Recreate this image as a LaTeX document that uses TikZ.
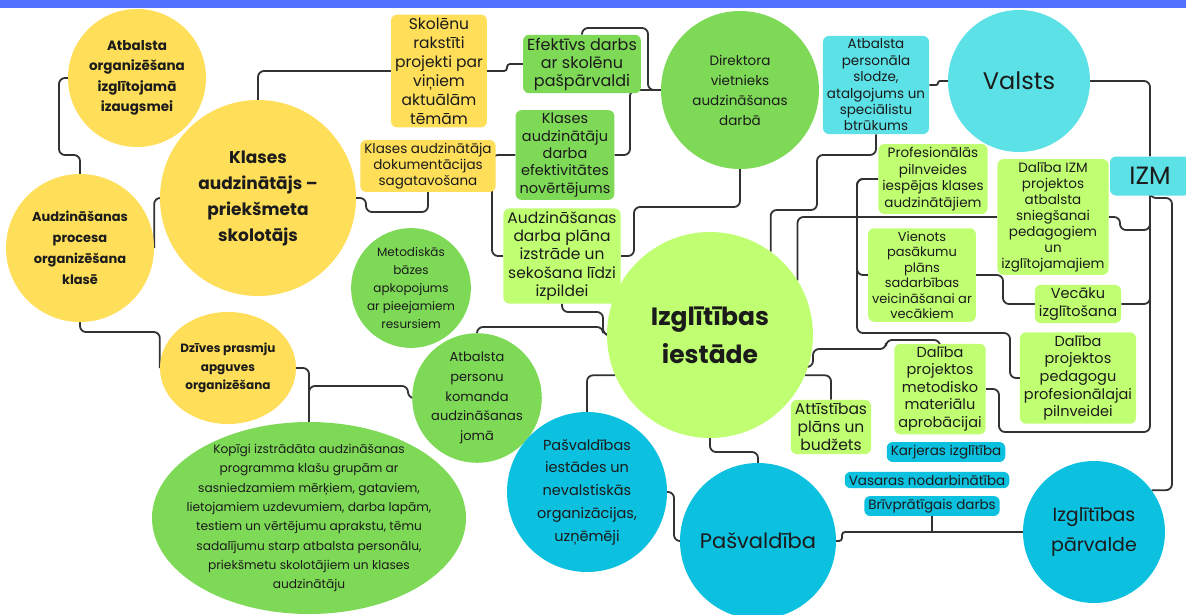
\documentclass[tikz,border=0pt]{standalone}
\usepackage{fontspec}
\setmainfont{Poppins}
\usetikzlibrary{shapes.geometric}
\definecolor{ink}{HTML}{1B1B1B}
\definecolor{cBar}{HTML}{5271FF}
\definecolor{cYellow}{HTML}{FFDE59}
\definecolor{cGreen}{HTML}{7ED957}
\definecolor{cLime}{HTML}{C1FF72}
\definecolor{cAqua}{HTML}{5CE1E6}
\definecolor{cBlue}{HTML}{0CC0DF}
\newcommand\fsz[2]{\fontsize{#1}{#2}\selectfont}
\pgfdeclarelayer{bg}
\pgfdeclarelayer{links}
\pgfsetlayers{bg,links,main}
\tikzset{
  bubble/.style={circle, inner sep=0pt, align=center, text=ink}, % round topic
  oval/.style={ellipse, inner sep=0pt}, % elliptic topic, text set as label
  tag/.style={rounded corners=6pt, inner xsep=4pt, inner ysep=3pt, align=center, text=ink}, % text box
  link/.style={draw=ink!90, line width=1.8pt, rounded corners=6pt}, % connector between topics
}

\begin{document}
\begin{tikzpicture}[x=1pt, y=-1pt]
	\begin{pgfonlayer}{bg}
	\fill[white] (0,0) rectangle (1186,614);
	\fill[cBar] (0,0) rectangle (1186,8);
	\end{pgfonlayer}
	\useasboundingbox (0,0) rectangle (1186,614);

	% yellow: class teacher side
	\node[bubble, fill=cYellow, minimum size=138, font=\bfseries\fsz{13.5}{20.5}] (aoi) at (137,78) {Atbalsta\\organizēšana\\izglītojamā\\izaugsmei};
	\node[bubble, fill=cYellow, minimum size=196, font=\bfseries\fsz{17}{26}] (kas) at (258,198) {Klases\\audzinātājs –\\priekšmeta\\skolotājs};
	\node[bubble, fill=cYellow, minimum size=148, font=\bfseries\fsz{13}{21}] (apo) at (80,248) {Audzināšanas\\procesa\\organizēšana\\klasē};
	\node[oval, fill=cYellow, minimum width=136, minimum height=112, label={[align=center, text=ink, font=\bfseries\fsz{12}{18.5}]center:Dzīves prasmju\\apguves\\organizēšana}] (dpa) at (228,368) {};
	\node[tag, fill=cYellow, font=\fsz{15.5}{19}] (srp) at (439,71) {Skolēnu\\rakstīti\\projekti par\\viņiem\\aktuālām\\tēmām};
	\node[tag, fill=cYellow, font=\fsz{13.5}{16}] (kad) at (428,166) {Klases audzinātāja\\dokumentācijas\\sagatavošana};

	% green: deputy director side
	\node[tag, fill=cGreen, font=\fsz{16}{18}] (eds) at (582,64) {Efektīvs darbs\\ar skolēnu\\pašpārvaldi};
	\node[tag, fill=cGreen, font=\fsz{14.5}{17.3}] (kae) at (565,155) {Klases\\audzinātāju\\darba\\efektivitātes\\novērtējums};
	\node[bubble, fill=cGreen, minimum size=158, font=\fsz{13.5}{20}] (dva) at (740,90) {Direktora\\vietnieks\\audzināšanas\\darbā};
	\node[bubble, fill=cGreen, minimum size=114, font=\fsz{12}{18}] (mba) at (411,288) {Metodiskās\\bāzes\\apkopojums\\ar pieejamiem\\resursiem};
	\node[bubble, fill=cGreen, minimum size=124, font=\fsz{13}{19.6}] (atp) at (477,398) {Atbalsta\\personu\\komanda\\audzināšanas\\jomā};
	\node[oval, fill=cGreen, minimum width=314, minimum height=192, label={[align=center, text=ink, font=\fsz{12.2}{19.3}]center:{Kopīgi izstrādāta audzināšanas\\programma klašu grupām ar\\sasniedzamiem mērķiem, gataviem,\\lietojamiem uzdevumiem, darba lapām,\\testiem un vērtējumu aprakstu, tēmu\\sadalījumu starp atbalsta personālu,\\priekšmetu skolotājiem un klases\\audzinātāju}}] (kop) at (309,518) {};

	% lime: the school
	\node[tag, fill=cLime, font=\fsz{15.5}{18.3}] (adp) at (562,256) {Audzināšanas\\darba plāna\\izstrāde un\\sekošana līdzi\\izpildei};
	\node[bubble, fill=cLime, minimum size=206, font=\bfseries\fsz{25}{38}] (iz) at (710,335) {Izglītības\\iestāde};
	\node[tag, fill=cLime, font=\fsz{13.5}{16.7}] (pps) at (933,179) {Profesionālās\\pilnveides\\iespējas klases\\audzinātājiem};
	\node[tag, fill=cLime, font=\fsz{13.5}{16}] (diz) at (1053,217) {Dalība IZM\\projektos\\atbalsta\\sniegšanai\\pedagogiem\\un\\izglītojamajiem};
	\node[tag, fill=cLime, font=\fsz{13}{15.5}] (vpp) at (922,275) {Vienots\\pasākumu\\plāns\\sadarbības\\veicināšanai ar\\vecākiem};
	\node[tag, fill=cLime, font=\fsz{14.5}{17.7}] (vec) at (1078,304) {Vecāku\\izglītošana};
	\node[tag, fill=cLime, font=\fsz{14.5}{17.7}] (dpp) at (1078,378) {Dalība\\projektos\\pedagogu\\profesionālajai\\pilnveidei};
	\node[tag, fill=cLime, font=\fsz{14.5}{17.5}] (dpm) at (940,389) {Dalība\\projektos\\metodisko\\materiālu\\aprobācijai};
	\node[tag, fill=cLime, font=\fsz{15.5}{18.3}] (att) at (831,427) {Attīstības\\plāns un\\budžets};

	% aqua: the state
	\node[bubble, fill=cAqua, minimum size=142, font=\fsz{24}{28}] (val) at (1019,81) {Valsts};
	\node[tag, fill=cAqua, minimum width=80, minimum height=39, font=\fsz{25}{28}] (izm) at (1150,176) {IZM};
	\node[tag, fill=cAqua, font=\fsz{13.5}{16.4}] (aps) at (876,85) {Atbalsta\\personāla\\slodze,\\atalgojums un\\speciālistu\\btrūkums};

	% blue: the municipality
	\node[bubble, fill=cBlue, minimum size=160, font=\fsz{14.5}{22.7}] (pie) at (587,492) {Pašvaldības\\iestādes un\\nevalstiskās\\organizācijas,\\uzņēmēji};
	\node[bubble, fill=cBlue, minimum size=156, font=\fsz{21}{26}] (pas) at (758,541) {Pašvaldība};
	\node[bubble, fill=cBlue, minimum size=142, font=\fsz{19}{30}] (izp) at (1094,532) {Izglītības\\pārvalde};
	\node[tag, fill=cBlue, font=\fsz{13.5}{16}] (kar) at (946,452) {Karjeras izglītība};
	\node[tag, fill=cBlue, font=\fsz{13.5}{16}] (vas) at (927,480) {Vasaras nodarbinātība};
	\node[tag, fill=cBlue, font=\fsz{13.5}{16}] (bri) at (932,506) {Brīvprātīgais darbs};

	\begin{pgfonlayer}{links}
	\draw[link] (aoi.west) -- (59,78) |- (80,155) -- (apo.north);
	\draw[link] (kas.west) -| (apo.east);
	\draw[link] (apo.south) -- (80,332) -| (dpa.west);
	\draw[link] (dpa.east) -| (kop.north);
	\draw[link] (atp.west) -- (408,398) |- (309,386) -- (kop.north);
	\draw[link] (kas.north) |- (srp.west);
	\draw[link, rounded corners=3pt] (srp.east) -- (507,71) |- (eds.west);
	\draw[link] (kas.east) -- (366,198) |- (428,212) -- (kad.south);
	\draw[link] (eds.north) -- (582,28) -| (648,90) -- (dva.west);
	\draw[link] (kae.east) -- (630,155) |- (dva.west);
	\draw[link] (dva.south) -- (740,207) -| (634,256) -- (adp.east);
	\draw[link] (kae.west) -- (492,155) |- (adp.west);
	\draw[link] (adp.south) -- (562,312) -| (603,335) -- (iz.west);
	\draw[link] (atp.north) -- (477,327) -| (603,335) -- (iz.west);
	\draw[link] (pie.north) |- (iz.203);
	\draw[link] (iz.south) -- (710,452) -| (pas.north);
	\draw[link] (pie.east) -- (674,492) |- (pas.west);
	\draw[link, rounded corners=3pt] (pas.east) -- (842,541) |- (izp.west);
	\draw[link] (bri.south) -- (bri.south |- izp.west);
	\draw[link] (izp.36) -| (1172,198) -| (izm.south);
	\draw[link] (val.east) -| (izm.north);
	\draw[link, rounded corners=2pt] (aps.east) -- (938,85) |- (val.west);
	\draw[link] (aps.south) -- (876,155) -| (817,210) -| (iz.54);
	\draw[link] (diz.west) -| (iz.32);
	\draw[link] (diz.east) -- (1120,217) |- (1150,230) -- (izm.south);
	\draw[link] (vec.east) -| (izm.south);
	\draw[link] (dpm.east) -- (999,389) |- (1150,432) -- (izm.south);
	\draw[link] (pps.west) -| (857,333) -| (1010,378) -- (dpp.west);
	\draw[link] (pps.west) -| (857,275) -- (vpp.west);
	\draw[link] (vpp.east) -- (1003,275) |- (vec.west);
	\draw[link] (iz.-18) -- (813,367) |- (886,349) |- (940,340) -- (dpm.north);
	\draw[link] (iz.-23) -| (att.north);
	\end{pgfonlayer}
\end{tikzpicture}
\end{document}
